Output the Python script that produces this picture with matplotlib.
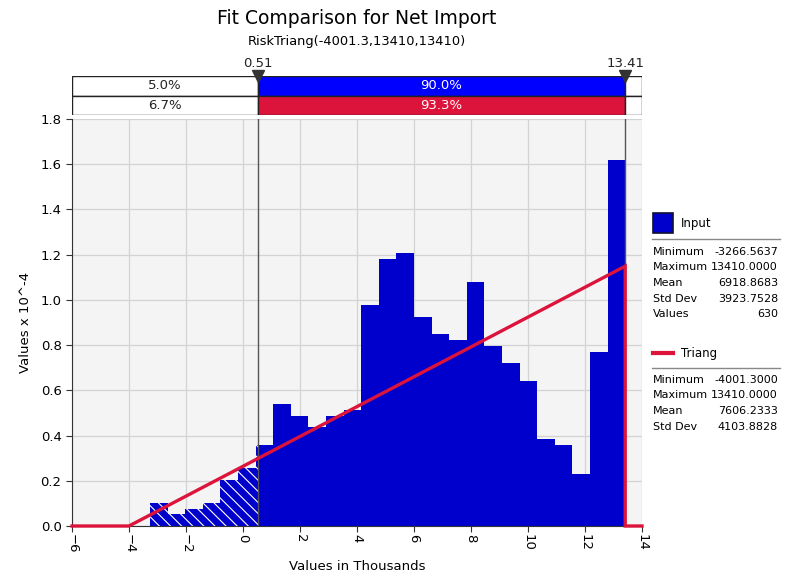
import numpy as np
import matplotlib
matplotlib.use('Agg')
from matplotlib import pyplot as plt
from matplotlib.patches import Rectangle
from matplotlib.lines import Line2D

plt.rcParams['font.family'] = 'DejaVu Sans'
plt.rcParams['hatch.linewidth'] = 0.8

# Input histogram (630 values, 27 equal bins from min to max)
input_min, input_max = -3266.5637, 13410.0
counts = [4, 2, 3, 4, 8, 10, 14, 21, 19, 17, 19, 20, 38, 46, 47,
          36, 33, 32, 42, 31, 28, 25, 15, 14, 9, 30, 63]
n_values = 630

# Triang fit (x in thousands, y in 10^-4)
tri_x = [-6.0, -4.0013, 13.41, 13.41, 14.0]
tri_y = [0.0, 0.0, 1.149, 0.0, 0.0]

# delimiters and band percentages
left_cut, right_cut = 0.51, 13.41
input_pcts = ['5.0%', '90.0%', '']
triang_pcts = ['6.7%', '93.3%', '']

input_stats = [('Minimum', '-3266.5637'), ('Maximum', '13410.0000'),
               ('Mean', '6918.8683'), ('Std Dev', '3923.7528'), ('Values', '630')]
triang_stats = [('Minimum', '-4001.3000'), ('Maximum', '13410.0000'),
                ('Mean', '7606.2333'), ('Std Dev', '4103.8828')]

blue = '#0000cc'
band_blue = '#0000ff'
red = '#dc143c'
W, H = 791, 576

def fx(px):
    return px / W

def fy(py):
    return 1 - py / H

fig = plt.figure(figsize=(W / 100, H / 100), dpi=100)
ax = fig.add_axes([fx(72), fy(526), fx(642) - fx(72), fy(119) - fy(526)])
ax.set_facecolor('#f4f4f4')

# histogram as density in 10^-4
edges = np.linspace(input_min, input_max, len(counts) + 1)
width = edges[1] - edges[0]
heights = np.array(counts) / (n_values * width) * 1e4
lefts = edges[:-1] / 1000
ax.bar(lefts, heights, width=width / 1000, align='edge', color=blue, lw=0, zorder=2)

# hatched part left of the lower delimiter
hb = ax.bar(lefts, heights, width=width / 1000, align='edge', facecolor=blue,
            edgecolor='white', hatch='\\\\\\', lw=0, zorder=2.1)
clip = Rectangle((-6, 0), left_cut + 6, 2, transform=ax.transData)
for p in hb:
    p.set_clip_path(clip)

ax.axvline(left_cut, color='#555555', lw=1, zorder=3)
ax.axvline(right_cut, color='#555555', lw=1, zorder=3)

ax.plot(tri_x, tri_y, color=red, lw=2.4, zorder=4, clip_on=False, solid_joinstyle='miter')

ax.set_xlim(-6, 14)
ax.set_ylim(0, 1.8)
ax.set_xticks(np.arange(-6, 15, 2))
ax.set_yticks(np.arange(0, 1.81, 0.2))
ax.set_yticklabels([f'{v:.1f}' for v in np.arange(0, 1.81, 0.2)])
ax.tick_params(axis='x', labelrotation=-90, labelsize=9.5, length=4, pad=2, color='#333333')
ax.tick_params(axis='y', labelsize=9.5, length=4, color='#333333')
ax.grid(True, color='#d3d3d3', lw=0.9, zorder=0)
ax.set_axisbelow(True)
for s in ['top', 'right']:
    ax.spines[s].set_visible(False)
for s in ['left', 'bottom']:
    ax.spines[s].set_color('#333333')
ax.set_xlabel('Values in Thousands', fontsize=9.5, labelpad=4)
ax.set_ylabel('Values x 10^-4', fontsize=9.5, labelpad=6)

# percentage bands
bx = fig.add_axes([fx(72), fy(115), fx(642) - fx(72), fy(76) - fy(115)])
bx.set_xlim(-6, 14)
bx.set_ylim(0, 2)
bx.axis('off')
segs = [(-6, left_cut), (left_cut, right_cut), (right_cut, 14)]
for row, pcts, fill in [(1, input_pcts, band_blue), (0, triang_pcts, red)]:
    for i, (a, b) in enumerate(segs):
        fc = fill if i == 1 else 'white'
        bx.add_patch(Rectangle((a, row), b - a, 1, facecolor=fc, edgecolor='#222222', lw=1))
        if pcts[i]:
            bx.text((a + b) / 2, row + 0.5, pcts[i], ha='center', va='center', fontsize=9.5,
                    color='white' if i == 1 else '#222222')
for v, lab in [(left_cut, '0.51'), (right_cut, '13.41')]:
    bx.plot([v], [2.0], marker='v', markersize=9, color='#333333', clip_on=False, zorder=5)
    bx.text(v, 2.3, lab, ha='center', va='bottom', fontsize=9.5, color='#222222')

# titles
fig.text(fx(357), fy(18), 'Fit Comparison for Net Import', ha='center', va='center', fontsize=13.5)
fig.text(fx(357), fy(41), 'RiskTriang(-4001.3,13410,13410)', ha='center', va='center', fontsize=9.4)

# legend / stats panel
fig.patches.append(Rectangle((fx(653), fy(233)), fx(20), fy(213) - fy(233), transform=fig.transFigure,
                             facecolor=blue, edgecolor='#111133', lw=1.2))
fig.text(fx(681), fy(223), 'Input', va='center', fontsize=8.5)
fig.lines.append(Line2D([fx(652), fx(780)], [fy(239), fy(239)], transform=fig.transFigure,
                        color='#888888', lw=1))
for k, (lab, val) in enumerate(input_stats):
    y = 252 + k * 15.5
    fig.text(fx(653), fy(y), lab, va='center', fontsize=8)
    fig.text(fx(778), fy(y), val, va='center', ha='right', fontsize=8)

fig.lines.append(Line2D([fx(653), fx(673)], [fy(353), fy(353)], transform=fig.transFigure,
                        color=red, lw=3))
fig.text(fx(681), fy(353), 'Triang', va='center', fontsize=8.5)
fig.lines.append(Line2D([fx(652), fx(780)], [fy(368), fy(368)], transform=fig.transFigure,
                        color='#888888', lw=1))
for k, (lab, val) in enumerate(triang_stats):
    y = 380 + k * 15.5
    fig.text(fx(653), fy(y), lab, va='center', fontsize=8)
    fig.text(fx(778), fy(y), val, va='center', ha='right', fontsize=8)

plt.savefig('out.png', dpi=100)
